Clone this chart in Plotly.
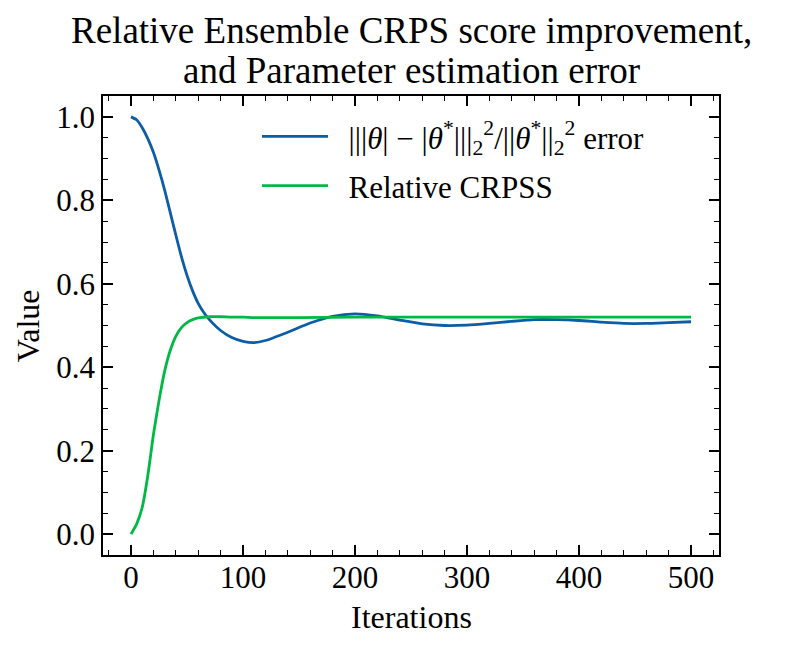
import plotly.graph_objects as go

# values
err_iters = [0, 5, 10, 15, 20, 25, 30, 35, 40, 45, 50, 55, 60, 65, 70, 80, 90, 100, 110, 120,
             140, 160, 180, 200, 220, 240, 260, 280, 300, 320, 340, 360, 380, 400, 420, 440,
             460, 480, 500]
err_values = [1.000, 0.993, 0.974, 0.948, 0.915, 0.873, 0.825, 0.771, 0.717, 0.665, 0.620,
              0.583, 0.553, 0.531, 0.514, 0.488, 0.471, 0.462, 0.459, 0.464, 0.484, 0.506,
              0.522, 0.528, 0.523, 0.513, 0.504, 0.500, 0.501, 0.505, 0.510, 0.514, 0.514,
              0.512, 0.508, 0.505, 0.505, 0.507, 0.509]

crpss_iters = [0, 5, 10, 15, 20, 25, 30, 35, 40, 45, 50, 55, 60, 70, 80, 90, 100, 110,
               150, 200, 250, 300, 350, 400, 450, 500]
crpss_values = [0.000, 0.024, 0.064, 0.140, 0.238, 0.320, 0.390, 0.440, 0.474, 0.495, 0.507,
                0.514, 0.518, 0.521, 0.521, 0.520, 0.520, 0.519, 0.519, 0.520, 0.520, 0.520,
                0.520, 0.520, 0.520, 0.520]

x_ticks = [0, 100, 200, 300, 400, 500]
y_ticks = [0.0, 0.2, 0.4, 0.6, 0.8, 1.0]

FONT = "Liberation Serif"
BLUE = "#0C5DA5"
GREEN = "#00B945"
PAD = "\u00a0\u00a0"  # small gap between legend line and text

fig = go.Figure()
fig.add_trace(go.Scatter(
    x=err_iters, y=err_values, mode="lines",
    line=dict(color=BLUE, width=2.8, shape="spline", smoothing=0.6), legendgroup="a",
    name=PAD + "|||<i>θ</i>| − |<i>θ</i><sup>*</sup>|||<sub>2</sub><sup>2</sup>/||<i>θ</i><sup>*</sup>||<sub>2</sub><sup>2</sup> error",
))
fig.add_trace(go.Scatter(
    x=crpss_iters, y=crpss_values, mode="lines",
    line=dict(color=GREEN, width=2.8, shape="spline", smoothing=0.6), legendgroup="b",
    name=PAD + "Relative CRPSS",
))

axis_style = dict(
    showgrid=False, zeroline=False, showline=True, linecolor="black", linewidth=1.6,
    mirror="allticks", ticks="inside", ticklen=10, tickwidth=1.6, tickcolor="black",
    tickfont=dict(family=FONT, size=31, color="black"),
)

fig.update_xaxes(
    range=[-25, 525], tickvals=x_ticks, ticktext=[str(v) for v in x_ticks],
    ticklabelstandoff=-6,
    minor=dict(ticks="inside", dtick=20, tick0=0, ticklen=5, tickwidth=1.3, tickcolor="black"),
    **axis_style,
)
fig.update_yaxes(
    range=[-0.05, 1.05], tickvals=y_ticks, ticktext=[f"{v:.1f}" for v in y_ticks],
    minor=dict(ticks="inside", dtick=0.05, tick0=0, ticklen=5, tickwidth=1.3, tickcolor="black"),
    **axis_style,
)

# titles as annotations so the two title lines and axis labels sit where the reference has them
fig.add_annotation(text="Relative Ensemble CRPS score improvement,", x=0.5, y=1.142,
                   xref="paper", yref="paper", showarrow=False, yanchor="middle",
                   font=dict(family=FONT, size=37, color="black"))
fig.add_annotation(text="and Parameter estimation error", x=0.5, y=1.055,
                   xref="paper", yref="paper", showarrow=False, yanchor="middle",
                   font=dict(family=FONT, size=37, color="black"))
fig.add_annotation(text="Iterations", x=0.5, y=-0.135, xref="paper", yref="paper",
                   showarrow=False, yanchor="middle",
                   font=dict(family=FONT, size=32, color="black"))
fig.add_annotation(text="Value", x=-0.122, y=0.5, xref="paper", yref="paper",
                   showarrow=False, textangle=-90, xanchor="center", yanchor="middle",
                   font=dict(family=FONT, size=32, color="black"))

# page body has an 8px margin, so the figure is 8px smaller and shifted
fig.update_layout(
    width=782, height=638,
    margin=dict(l=95, r=71, t=88, b=91),
    paper_bgcolor="white", plot_bgcolor="white",
    font=dict(family=FONT, size=31, color="black"),
    legend=dict(
        x=0.25, xanchor="left", y=0.97, yanchor="top",
        bgcolor="rgba(0,0,0,0)", font=dict(family=FONT, size=31, color="black"),
        traceorder="grouped", tracegroupgap=6, itemwidth=66,
    ),
)

fig.write_html("out.html")
